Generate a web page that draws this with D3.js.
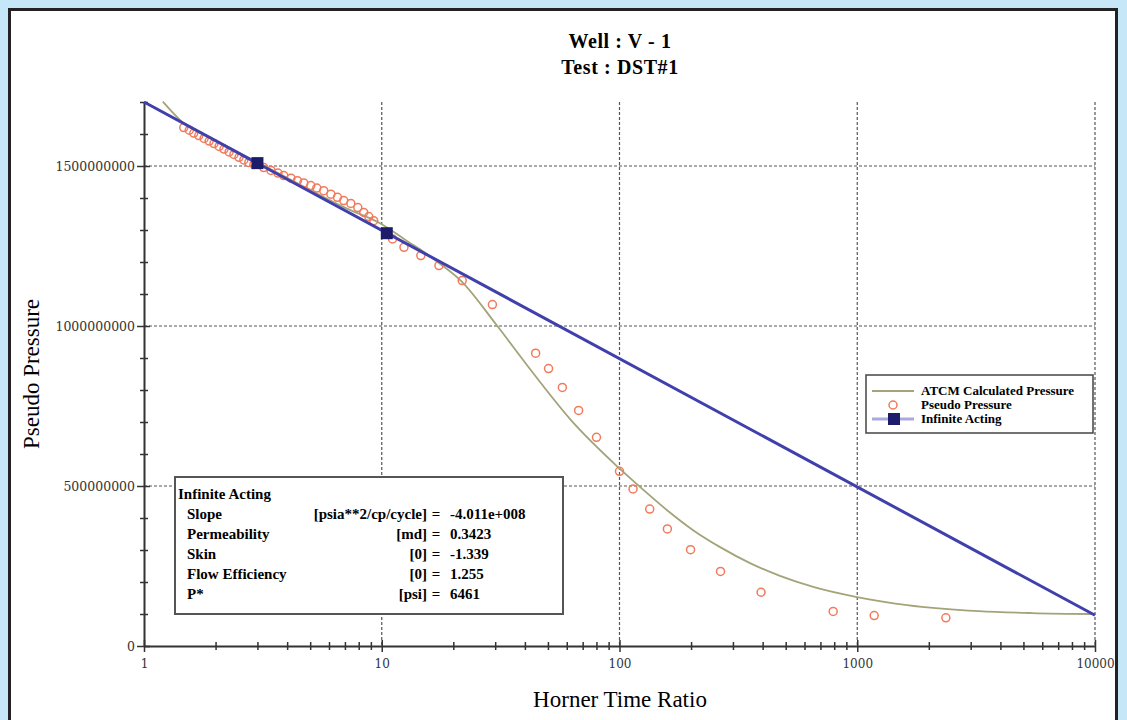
<!DOCTYPE html>
<html>
<head>
<meta charset="utf-8">
<script src="https://cdn.jsdelivr.net/npm/d3@7"></script>
<style>
  body { margin: 0; background: #c6e7f7; }
  svg { display: block; }
</style>
</head>
<body>
<script>
// chart data
const titleLines = ['Well : V - 1', 'Test : DST#1'];
const xTickValues = [1, 10, 100, 1000, 10000];
const yTickValues = [0, 500000000, 1000000000, 1500000000];

// Pseudo Pressure (circles)
const pseudoX = [1.47, 1.55, 1.62, 1.70, 1.79, 1.88, 1.97, 2.07, 2.17, 2.28, 2.39, 2.51, 2.63, 2.76, 2.90,
  3.19, 3.42, 3.66, 3.87, 4.15, 4.42, 4.70, 5.03, 5.33, 5.70, 6.11, 6.51, 6.92, 7.41, 7.93, 8.40, 8.82, 9.25,
  11.1, 12.4, 14.6, 17.4, 21.8, 29.2, 44.4, 50.3, 57.5, 67.3, 80.0, 100, 114, 134, 159, 199, 266, 394, 792, 1178, 2359];
const pseudoY = [1620e6, 1612e6, 1603e6, 1595e6, 1586e6, 1578e6, 1570e6, 1561e6, 1553e6, 1544e6, 1536e6, 1527e6, 1519e6, 1511e6, 1505e6,
  1495e6, 1486e6, 1478e6, 1470e6, 1462e6, 1454e6, 1447e6, 1439e6, 1431e6, 1423e6, 1412e6, 1402e6, 1392e6, 1383e6, 1370e6, 1355e6, 1342e6, 1329e6,
  1272e6, 1246e6, 1220e6, 1189e6, 1142e6, 1067e6, 915e6, 867e6, 808e6, 736e6, 652e6, 546e6, 491e6, 428e6, 366e6, 301e6, 233e6, 168e6, 108e6, 95e6, 88e6];

// ATCM Calculated Pressure (line)
const atcmX = [1.2, 1.45, 2, 3, 4, 5, 7, 10, 13, 15, 17.4, 21.5, 30.4, 43.3, 62.5, 98.6, 126, 160, 204, 265, 354, 473, 658, 998, 1619, 3251, 5433, 10000];
const atcmY = [1701e6, 1637e6, 1580e6, 1511e6, 1463e6, 1425e6, 1370e6, 1318e6, 1262e6, 1232e6, 1197e6, 1142e6, 1003e6, 853e6, 706e6,
  559e6, 488e6, 422e6, 362e6, 309e6, 259e6, 219e6, 184e6, 153e6, 128e6, 109e6, 103e6, 100e6];

// Infinite Acting (straight line + selected points)
const infX = [1, 10000];
const infY = [1700e6, 96e6];
const markX = [3, 10.5];
const markY = [1509e6, 1290e6];

const legendNames = ['ATCM Calculated Pressure', 'Pseudo Pressure', 'Infinite Acting'];
const infoTitle = 'Infinite Acting';
const infoLabels = ['Slope', 'Permeability', 'Skin', 'Flow Efficiency', 'P*'];
const infoUnits = ['[psia**2/cp/cycle]', '[md]', '[0]', '[0]', '[psi]'];
const infoValues = ['-4.011e+008', '0.3423', '-1.339', '1.255', '6461'];

const svgW = 1127;
const svgH = 720;
const serif = '"Liberation Serif", "Times New Roman", serif';

const svg = d3.select('body')
  .append('svg')
  .attr('width', svgW)
  .attr('height', svgH);

// white panel with dark frame
svg.append('rect')
  .attr('x', 9.5).attr('y', 9.5)
  .attr('width', 1107).attr('height', 740)
  .attr('fill', '#fff')
  .attr('stroke', '#222')
  .attr('stroke-width', 3);

const x = d3.scaleLog().domain([1, 10000]).range([144, 1095]);
const y = d3.scaleLinear().domain([0, 1700e6]).range([646, 102]);

// title
svg.selectAll('.title')
  .data(titleLines)
  .enter()
  .append('text')
  .attr('x', 620)
  .attr('y', (d, i) => 48 + i * 26)
  .attr('text-anchor', 'middle')
  .attr('font-family', serif)
  .attr('font-weight', 'bold')
  .attr('font-size', 20)
  .attr('letter-spacing', 0.6)
  .text(d => d);

// grid
const grid = svg.append('g')
  .attr('stroke', '#555')
  .attr('stroke-width', 1.2)
  .attr('stroke-dasharray', '3,2');
grid.selectAll('.vg')
  .data(xTickValues.slice(1))
  .enter()
  .append('line')
  .attr('x1', d => x(d)).attr('x2', d => x(d))
  .attr('y1', y(1700e6)).attr('y2', y(0));
grid.selectAll('.hg')
  .data(yTickValues.slice(1))
  .enter()
  .append('line')
  .attr('x1', x(1)).attr('x2', x(10000))
  .attr('y1', d => y(d)).attr('y2', d => y(d));

// axes
const xMinor = [];
for (let p = 1; p < 10000; p *= 10) for (let k = 1; k < 10; k++) xMinor.push(p * k);
xMinor.push(10000);

const xAxis = d3.axisBottom(x)
  .tickValues(xMinor)
  .tickFormat(d => xTickValues.includes(d) ? d3.format('d')(d) : '')
  .tickSizeOuter(0);
const gx = svg.append('g')
  .attr('transform', `translate(0, ${y(0)})`)
  .call(xAxis);
gx.select('.domain').attr('stroke', '#333').attr('stroke-width', 2);
gx.selectAll('.tick line')
  .attr('stroke', '#333')
  .attr('stroke-width', 1.5)
  .attr('y1', d => xTickValues.includes(d) ? -6 : -4)
  .attr('y2', d => xTickValues.includes(d) ? 6 : 4);
gx.selectAll('.tick text')
  .attr('y', 13)
  .attr('fill', '#333')
  .attr('font-family', '"DejaVu Serif", serif')
  .attr('font-size', 12);

const yAxis = d3.axisLeft(y)
  .tickValues(d3.range(0, 1700e6 + 1, 100e6))
  .tickFormat(d => yTickValues.includes(d) ? d3.format('d')(d) : '')
  .tickSizeOuter(0);
const gy = svg.append('g')
  .attr('transform', `translate(${x(1)}, 0)`)
  .call(yAxis);
gy.select('.domain').attr('stroke', '#333').attr('stroke-width', 2);
gy.selectAll('.tick line')
  .attr('stroke', '#333')
  .attr('stroke-width', 1.5)
  .attr('x1', d => yTickValues.includes(d) ? 6 : 4)
  .attr('x2', d => yTickValues.includes(d) ? -7 : -4);
gy.selectAll('.tick text')
  .attr('x', -9)
  .attr('fill', '#333')
  .attr('font-family', '"DejaVu Serif", serif')
  .attr('font-size', 12.5);

// axis titles
svg.append('text')
  .attr('x', 620).attr('y', 707)
  .attr('text-anchor', 'middle')
  .attr('font-family', serif)
  .attr('font-size', 23)
  .text('Horner Time Ratio');
svg.append('text')
  .attr('transform', 'translate(39, 374) rotate(-90)')
  .attr('text-anchor', 'middle')
  .attr('font-family', serif)
  .attr('font-size', 23)
  .text('Pseudo Pressure');

// ATCM line
const atcm = atcmX.map((d, i) => [d, atcmY[i]]);
svg.append('path')
  .datum(atcm)
  .attr('fill', 'none')
  .attr('stroke', '#a3a479')
  .attr('stroke-width', 1.8)
  .attr('d', d3.line().x(d => x(d[0])).y(d => y(d[1])).curve(d3.curveMonotoneX));

// Pseudo pressure circles
svg.selectAll('.pp')
  .data(pseudoX.map((d, i) => [d, pseudoY[i]]))
  .enter()
  .append('circle')
  .attr('cx', d => x(d[0]))
  .attr('cy', d => y(d[1]))
  .attr('r', 4)
  .attr('fill', 'none')
  .attr('stroke', '#f27a5c')
  .attr('stroke-width', 1.5);

// Infinite acting line
svg.append('path')
  .datum(infX.map((d, i) => [d, infY[i]]))
  .attr('fill', 'none')
  .attr('stroke', '#4040ad')
  .attr('stroke-width', 3)
  .attr('d', d3.line().x(d => x(d[0])).y(d => y(d[1])));
svg.selectAll('.mk')
  .data(markX.map((d, i) => [d, markY[i]]))
  .enter()
  .append('rect')
  .attr('x', d => x(d[0]) - 6)
  .attr('y', d => y(d[1]) - 6)
  .attr('width', 12).attr('height', 12)
  .attr('fill', '#1c1c6a');

// legend
const lg = svg.append('g').attr('transform', 'translate(866, 375)');
lg.append('rect')
  .attr('width', 227).attr('height', 58)
  .attr('fill', '#fff')
  .attr('stroke', '#444')
  .attr('stroke-width', 1.5);
lg.selectAll('text')
  .data(legendNames)
  .enter()
  .append('text')
  .attr('x', 55)
  .attr('y', (d, i) => 20 + i * 14)
  .attr('font-family', serif)
  .attr('font-weight', 'bold')
  .attr('font-size', 13)
  .text(d => d);
lg.append('line').attr('x1', 6).attr('x2', 48).attr('y1', 16).attr('y2', 16)
  .attr('stroke', '#a3a479').attr('stroke-width', 1.8);
lg.append('circle').attr('cx', 27).attr('cy', 30).attr('r', 4)
  .attr('fill', 'none').attr('stroke', '#f27a5c').attr('stroke-width', 1.5);
lg.append('line').attr('x1', 6).attr('x2', 48).attr('y1', 44).attr('y2', 44)
  .attr('stroke', '#a9a9e0').attr('stroke-width', 3);
lg.append('rect').attr('x', 22).attr('y', 38).attr('width', 12).attr('height', 12)
  .attr('fill', '#1c1c6a');

// info box
const ib = svg.append('g').attr('transform', 'translate(175, 477)');
ib.append('rect')
  .attr('width', 388).attr('height', 137)
  .attr('fill', '#fff')
  .attr('stroke', '#555')
  .attr('stroke-width', 2);
const infoFont = g => g.attr('font-family', serif).attr('font-weight', 'bold').attr('font-size', 15);
ib.append('text').attr('x', 3).attr('y', 22).call(infoFont).text(infoTitle);
infoLabels.forEach((d, i) => {
  const yy = 42 + i * 20;
  ib.append('text').attr('x', 12).attr('y', yy).call(infoFont).text(d);
  ib.append('text').attr('x', 252).attr('y', yy).attr('text-anchor', 'end').call(infoFont).text(infoUnits[i]);
  ib.append('text').attr('x', 261).attr('y', yy).attr('text-anchor', 'middle').call(infoFont).text('=');
  ib.append('text').attr('x', 275).attr('y', yy).call(infoFont).text(infoValues[i]);
});
</script>
</body>
</html>
